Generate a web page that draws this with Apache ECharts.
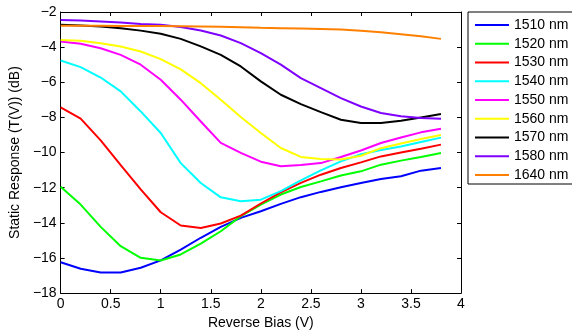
<!DOCTYPE html>
<html>
<head>
<meta charset="utf-8">
<script src="https://cdn.jsdelivr.net/npm/echarts@6/dist/echarts.min.js"></script>
<style>
  html, body { margin: 0; padding: 0; background: #fff; }
  #chart { width: 572px; height: 335px; }
</style>
</head>
<body>
<div id="chart"></div>
<script>
// Reverse bias steps (V)
const bias = [0, 0.2, 0.4, 0.6, 0.8, 1.0, 1.2, 1.4, 1.6, 1.8, 2.0, 2.2, 2.4, 2.6, 2.8, 3.0, 3.2, 3.4, 3.6, 3.8];

// Static response T(V) in dB, one array per wavelength
const r1510 = [-16.24, -16.61, -16.83, -16.83, -16.56, -16.14, -15.52, -14.85, -14.23, -13.72, -13.34, -12.92, -12.54, -12.24, -11.98, -11.73, -11.50, -11.35, -11.03, -10.88];
const r1520 = [-11.95, -12.96, -14.23, -15.33, -15.99, -16.14, -15.80, -15.18, -14.48, -13.62, -12.96, -12.39, -11.96, -11.64, -11.31, -11.07, -10.69, -10.46, -10.25, -10.02];
const r1530 = [-7.43, -8.07, -9.31, -10.72, -12.10, -13.40, -14.15, -14.30, -14.04, -13.59, -12.90, -12.26, -11.73, -11.26, -10.88, -10.56, -10.22, -10.00, -9.78, -9.55];
const r1540 = [-4.76, -5.14, -5.73, -6.52, -7.66, -8.89, -10.60, -11.73, -12.55, -12.77, -12.68, -12.20, -11.58, -11.01, -10.50, -10.10, -9.85, -9.65, -9.40, -9.15];
const r1550 = [-3.68, -3.81, -4.06, -4.44, -5.00, -5.86, -6.99, -8.23, -9.45, -10.02, -10.52, -10.78, -10.71, -10.60, -10.25, -9.88, -9.46, -9.14, -8.85, -8.65];
const r1560 = [-3.59, -3.64, -3.78, -3.96, -4.25, -4.68, -5.27, -6.05, -6.99, -7.98, -8.89, -9.74, -10.25, -10.37, -10.40, -10.18, -9.75, -9.48, -9.23, -9.00];
const r1570 = [-2.73, -2.77, -2.83, -2.92, -3.06, -3.24, -3.53, -3.96, -4.44, -5.10, -5.95, -6.71, -7.24, -7.70, -8.13, -8.32, -8.32, -8.19, -8.00, -7.81];
const r1580 = [-2.45, -2.49, -2.54, -2.60, -2.68, -2.73, -2.86, -3.05, -3.34, -3.77, -4.34, -5.00, -5.76, -6.33, -6.90, -7.38, -7.75, -7.94, -8.04, -8.07];
const r1640 = [-2.78, -2.78, -2.78, -2.79, -2.80, -2.80, -2.81, -2.82, -2.84, -2.87, -2.90, -2.92, -2.94, -2.97, -3.00, -3.07, -3.15, -3.26, -3.38, -3.53];

const names = ['1510 nm', '1520 nm', '1530 nm', '1540 nm', '1550 nm', '1560 nm', '1570 nm', '1580 nm', '1640 nm'];
const values = [r1510, r1520, r1530, r1540, r1550, r1560, r1570, r1580, r1640];
const colors = ['#0000ff', '#00ff00', '#ff0000', '#00ffff', '#ff00ff', '#ffff00', '#000000', '#7f00ff', '#ff8000'];

const FONT = '"Liberation Sans", Arial, sans-serif';
const minus = v => String(v).replace('-', '\u2212');

const chart = echarts.init(document.getElementById('chart'), null, { renderer: 'canvas' });

// Shared style for the boxed frame: black lines, short inward ticks
const boxAxis = {
  axisLine: { show: true, onZero: false, lineStyle: { color: '#000', width: 1 } },
  axisTick: { show: true, inside: true, length: 4, lineStyle: { color: '#000' } },
  splitLine: { show: false }
};

chart.setOption({
  animation: false,
  backgroundColor: '#fff',
  grid: { left: 58.5, right: 111, top: 12, bottom: 41, containLabel: false },
  legend: {
    left: 468, top: 12,
    orient: 'vertical',
    data: names,
    icon: 'rect',
    itemWidth: 34, itemHeight: 2,
    itemGap: 4.75,
    padding: [6, 5, 2, 7],
    borderColor: '#000', borderWidth: 1,
    backgroundColor: '#fff',
    textStyle: { fontFamily: FONT, fontSize: 14, color: '#000', lineHeight: 14 }
  },
  xAxis: [
    Object.assign({
      type: 'value', min: 0, max: 4, interval: 0.5, position: 'bottom',
      name: 'Reverse Bias (V)', nameLocation: 'middle', nameGap: 21,
      nameTextStyle: { fontFamily: FONT, fontSize: 14, color: '#000' },
      axisLabel: { fontFamily: FONT, fontSize: 14, color: '#000', margin: 4 }
    }, boxAxis),
    Object.assign({
      type: 'value', min: 0, max: 4, interval: 0.5, position: 'top',
      axisLabel: { show: false }
    }, boxAxis)
  ],
  yAxis: [
    Object.assign({
      type: 'value', min: -18, max: -2, interval: 2, position: 'left',
      name: 'Static Response (T(V)) (dB)', nameLocation: 'middle', nameGap: 33,
      nameTextStyle: { fontFamily: FONT, fontSize: 14, color: '#000' },
      axisLabel: { fontFamily: FONT, fontSize: 14, color: '#000', margin: 4, formatter: minus }
    }, boxAxis),
    Object.assign({
      type: 'value', min: -18, max: -2, interval: 2, position: 'right',
      axisLabel: { show: false }
    }, boxAxis)
  ],
  series: names.map((n, i) => ({
    name: n,
    type: 'line',
    xAxisIndex: 0, yAxisIndex: 0,
    data: bias.map((x, k) => [x, values[i][k]]),
    showSymbol: false,
    symbol: 'none',
    lineStyle: { color: colors[i], width: 2 },
    itemStyle: { color: colors[i] },
    emphasis: { disabled: true }
  }))
});
</script>
</body>
</html>
